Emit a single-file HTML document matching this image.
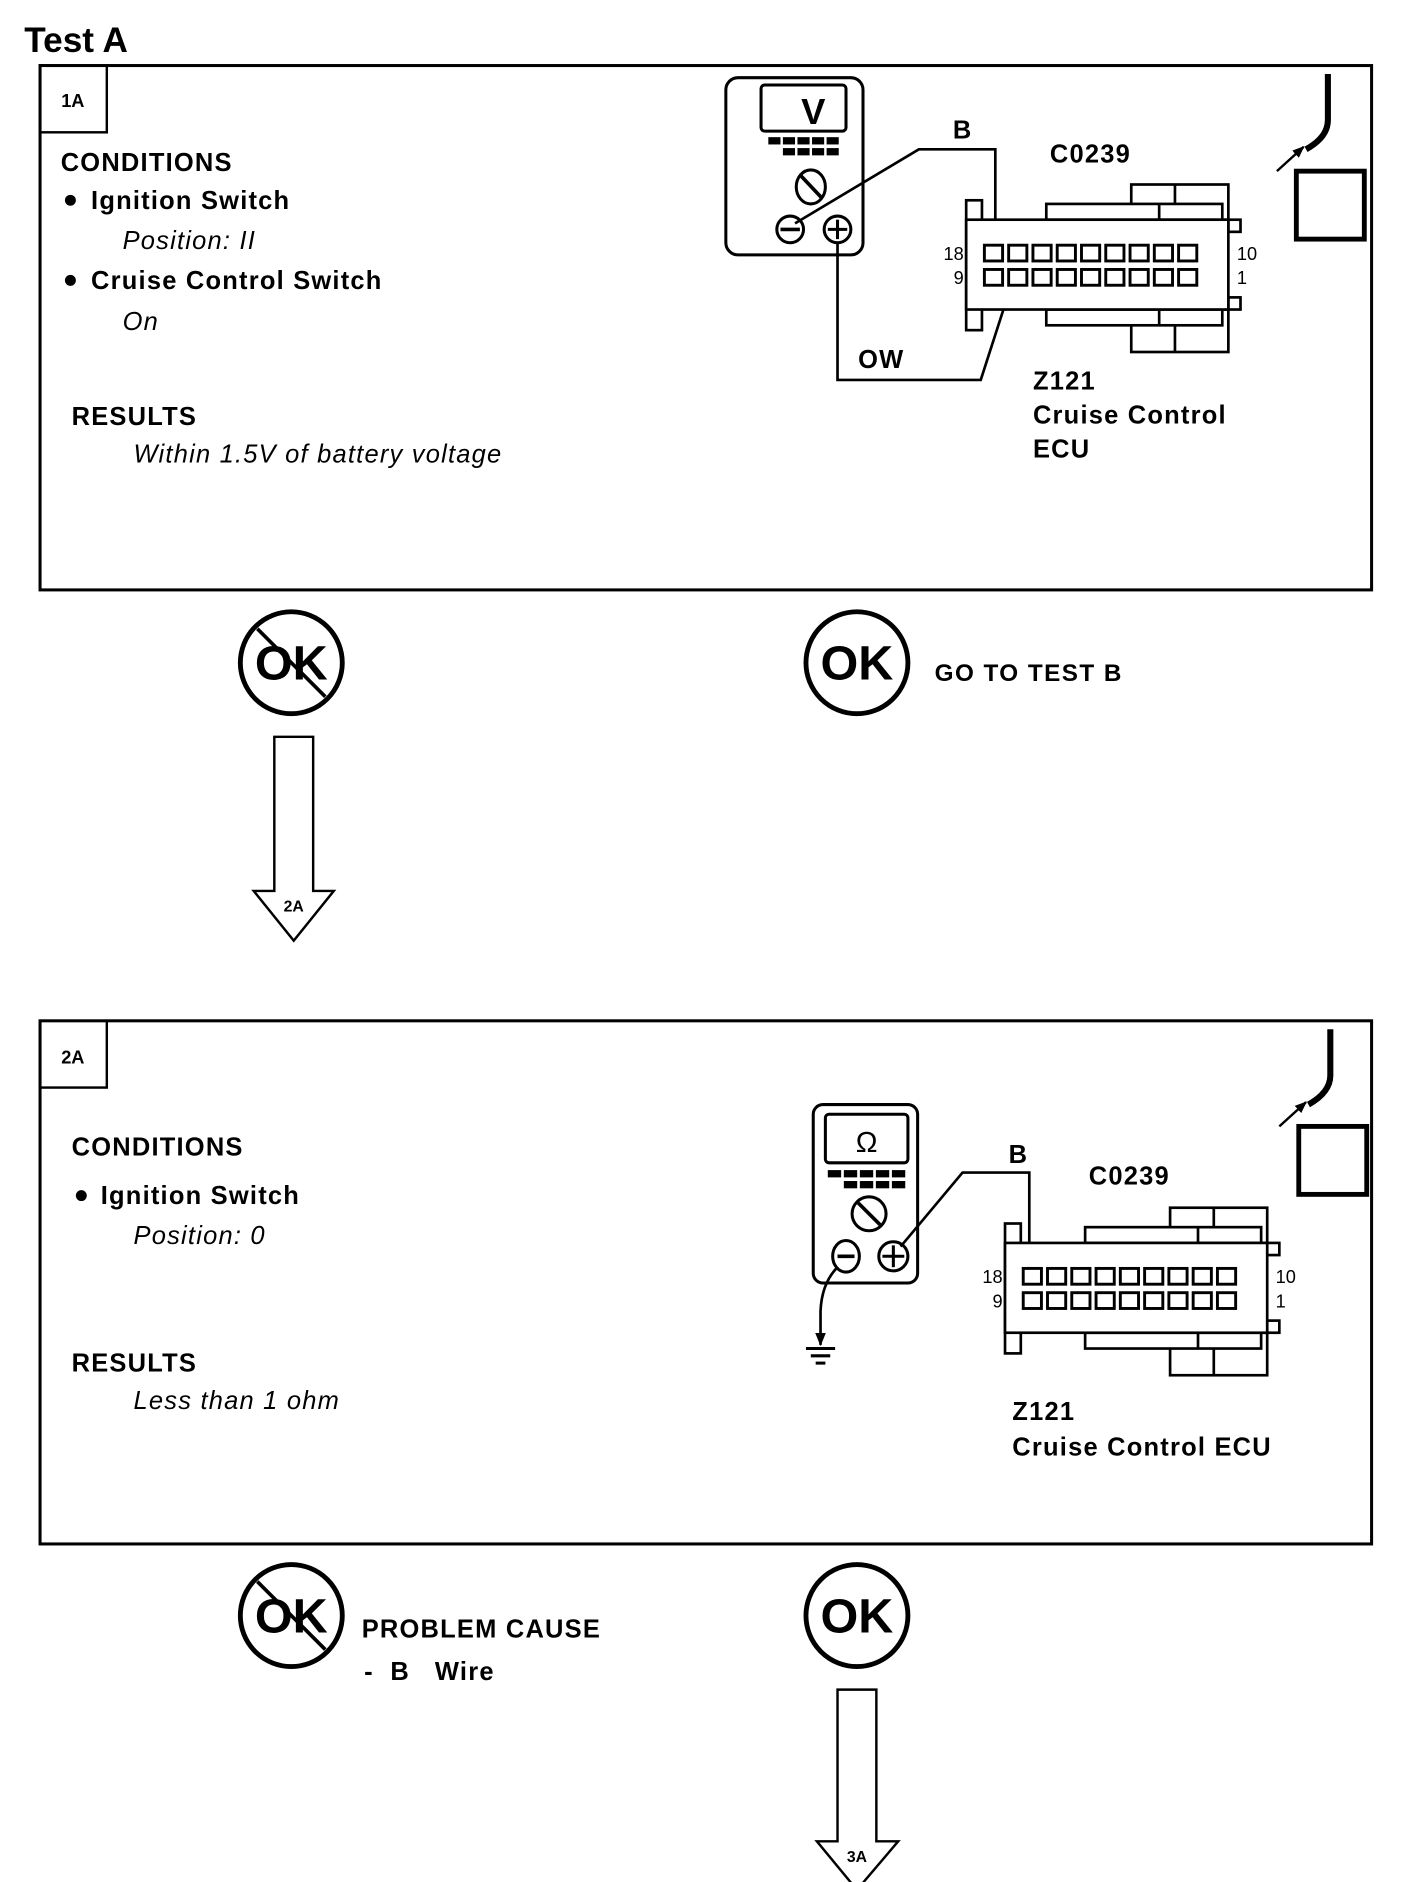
<!DOCTYPE html>
<html><head><meta charset="utf-8"><style>
html,body{margin:0;padding:0;background:#fff}
svg{display:block}
text{font-family:"Liberation Sans",Arial,sans-serif;fill:#000}
.b{font-weight:bold}
.i{font-style:italic}
.t{font-size:21px;letter-spacing:1px}
</style></head><body>
<svg width="1408" height="1882" viewBox="0 0 1160 1550.5" xmlns="http://www.w3.org/2000/svg">
<defs>
<marker id="ah" viewBox="0 0 10 10" refX="9" refY="5" markerWidth="5" markerHeight="5" orient="auto"><path d="M0,1 L10,5 L0,9 z" fill="#000"/></marker>
<g id="conn" fill="#fff" stroke="#000" stroke-width="2.2">
<rect x="932" y="152" width="80" height="29"/><line x1="968" y1="152" x2="968" y2="181"/>
<rect x="862" y="168" width="145" height="13"/>
<rect x="932" y="255" width="80" height="35"/><line x1="968" y1="255" x2="968" y2="290"/>
<rect x="862" y="255" width="145" height="13"/>
<line x1="955" y1="168" x2="955" y2="181"/><line x1="955" y1="255" x2="955" y2="268"/>
<rect x="1012" y="181" width="10" height="10"/><rect x="1012" y="245" width="10" height="10"/>
<rect x="796" y="165" width="13" height="107"/>
<rect x="796" y="181" width="216" height="74"/>
<g stroke-width="2.4">
<rect x="811" y="202" width="15" height="13"/><rect x="831" y="202" width="15" height="13"/><rect x="851" y="202" width="15" height="13"/><rect x="871" y="202" width="15" height="13"/><rect x="891" y="202" width="15" height="13"/><rect x="911" y="202" width="15" height="13"/><rect x="931" y="202" width="15" height="13"/><rect x="951" y="202" width="15" height="13"/><rect x="971" y="202" width="15" height="13"/>
<rect x="811" y="222" width="15" height="13"/><rect x="831" y="222" width="15" height="13"/><rect x="851" y="222" width="15" height="13"/><rect x="871" y="222" width="15" height="13"/><rect x="891" y="222" width="15" height="13"/><rect x="911" y="222" width="15" height="13"/><rect x="931" y="222" width="15" height="13"/><rect x="951" y="222" width="15" height="13"/><rect x="971" y="222" width="15" height="13"/>
</g>
<text x="794" y="214" font-size="15" text-anchor="end" stroke="none" fill="#000">18</text>
<text x="794" y="234" font-size="15" text-anchor="end" stroke="none" fill="#000">9</text>
<text x="1019" y="214" font-size="15" stroke="none" fill="#000">10</text>
<text x="1019" y="234" font-size="15" stroke="none" fill="#000">1</text>
</g>
<g id="keys" fill="#000">
<rect x="0" y="0" width="10" height="6"/><rect x="12" y="0" width="10" height="6"/><rect x="24" y="0" width="10" height="6"/><rect x="36" y="0" width="10" height="6"/><rect x="48" y="0" width="10" height="6"/>
<rect x="12" y="9" width="10" height="6"/><rect x="24" y="9" width="10" height="6"/><rect x="36" y="9" width="10" height="6"/><rect x="48" y="9" width="10" height="6"/>
</g>
<g id="plug" fill="none" stroke="#000">
<path d="M0,0 L0,38 Q0,52 -18,62" stroke-width="5"/>
<line x1="-42" y1="80" x2="-20" y2="60" stroke-width="2" marker-end="url(#ah)"/>
<rect x="-26" y="80" width="56" height="56" stroke-width="4"/>
</g>
<g id="nok">
<circle r="42" fill="#fff" stroke="#000" stroke-width="4"/>
<text x="0" y="14" font-size="40" class="b" text-anchor="middle">OK</text>
<line x1="-28" y1="-28" x2="28" y2="28" stroke="#000" stroke-width="3"/>
</g>
<g id="ok">
<circle r="42" fill="#fff" stroke="#000" stroke-width="4"/>
<text x="0" y="14" font-size="40" class="b" text-anchor="middle">OK</text>
</g>
</defs>

<text x="20" y="43" font-size="29" class="b">Test A</text>

<!-- Box 1 -->
<rect x="33" y="54" width="1097" height="432" fill="none" stroke="#000" stroke-width="2.5"/>
<rect x="33" y="54" width="55" height="55" fill="none" stroke="#000" stroke-width="2"/>
<text x="60" y="88" font-size="15" class="b" text-anchor="middle">1A</text>
<text x="50" y="141" class="b t">CONDITIONS</text>
<circle cx="58" cy="165" r="4.5"/>
<text x="75" y="172" class="b t">Ignition Switch</text>
<text x="101" y="205" class="i t">Position: II</text>
<circle cx="58" cy="231" r="4.5"/>
<text x="75" y="238" class="b t">Cruise Control Switch</text>
<text x="101" y="272" class="i t">On</text>
<text x="59" y="350" class="b t">RESULTS</text>
<text x="110" y="381" class="i t">Within 1.5V of battery voltage</text>

<!-- meter 1 -->
<rect x="598" y="64" width="113" height="146" rx="10" fill="#fff" stroke="#000" stroke-width="2.5"/>
<rect x="627" y="70" width="70" height="38" rx="3" fill="#fff" stroke="#000" stroke-width="2.5"/>
<text x="670" y="102" font-size="30" class="b" text-anchor="middle">V</text>
<use href="#keys" x="633" y="113"/>
<ellipse cx="668" cy="154" rx="12" ry="14" fill="none" stroke="#000" stroke-width="2.5"/>
<line x1="660" y1="145" x2="677" y2="163" stroke="#000" stroke-width="3"/>
<circle cx="651" cy="189" r="11" fill="#fff" stroke="#000" stroke-width="2.5"/>
<line x1="643" y1="189" x2="659" y2="189" stroke="#000" stroke-width="3"/>
<circle cx="690" cy="189" r="11" fill="#fff" stroke="#000" stroke-width="2.5"/>
<line x1="682" y1="189" x2="698" y2="189" stroke="#000" stroke-width="2.5"/>
<line x1="690" y1="181" x2="690" y2="197" stroke="#000" stroke-width="2.5"/>
<polyline points="655,184 757,123 820,123 820,199" fill="none" stroke="#000" stroke-width="2.2" marker-end="url(#ah)"/>
<polyline points="690,200 690,313 808,313 837,223" fill="none" stroke="#000" stroke-width="2.2" marker-end="url(#ah)"/>
<text x="785" y="114" class="b t">B</text>
<text x="707" y="303" class="b t">OW</text>
<use href="#conn"/>
<text x="865" y="134" class="b t">C0239</text>
<text x="851" y="321" class="b t">Z121</text>
<text x="851" y="349" class="b t">Cruise Control</text>
<text x="851" y="377" class="b t">ECU</text>
<use href="#plug" x="1094" y="61"/>

<use href="#nok" x="240" y="546"/>
<use href="#ok" x="706" y="546"/>
<text x="770" y="561" font-size="20" letter-spacing="1.2" class="b">GO TO TEST B</text>
<path d="M226,607 L258,607 L258,734 L275,734 L242,775 L209,734 L226,734 Z" fill="#fff" stroke="#000" stroke-width="2"/>
<text x="242" y="751" font-size="13" class="b" text-anchor="middle">2A</text>

<!-- Box 2 -->
<rect x="33" y="841" width="1097" height="431" fill="none" stroke="#000" stroke-width="2.5"/>
<rect x="33" y="841" width="55" height="55" fill="none" stroke="#000" stroke-width="2"/>
<text x="60" y="876" font-size="15" class="b" text-anchor="middle">2A</text>
<text x="59" y="952" class="b t">CONDITIONS</text>
<circle cx="67" cy="985" r="4.5"/>
<text x="83" y="992" class="b t">Ignition Switch</text>
<text x="110" y="1025" class="i t">Position: 0</text>
<text x="59" y="1130" class="b t">RESULTS</text>
<text x="110" y="1161" class="i t">Less than 1 ohm</text>

<!-- meter 2 -->
<rect x="670" y="910" width="86" height="147" rx="8" fill="#fff" stroke="#000" stroke-width="2.5"/>
<rect x="680" y="918" width="68" height="40" rx="3" fill="#fff" stroke="#000" stroke-width="2.5"/>
<text x="714" y="949" font-size="24" text-anchor="middle" font-family="Liberation Serif">Ω</text>
<use href="#keys" transform="translate(682 964) scale(1.1 1)"/>
<ellipse cx="716" cy="1000" rx="14" ry="14" fill="none" stroke="#000" stroke-width="2.5"/>
<line x1="707" y1="991" x2="725" y2="1009" stroke="#000" stroke-width="3"/>
<ellipse cx="697" cy="1035" rx="11" ry="13" fill="#fff" stroke="#000" stroke-width="2.5"/>
<line x1="690" y1="1035" x2="704" y2="1035" stroke="#000" stroke-width="3"/>
<circle cx="736" cy="1035" r="12" fill="#fff" stroke="#000" stroke-width="2.5"/>
<line x1="727" y1="1035" x2="745" y2="1035" stroke="#000" stroke-width="2.5"/>
<line x1="736" y1="1026" x2="736" y2="1044" stroke="#000" stroke-width="2.5"/>
<polyline points="742,1027 793,966 848,966 848,1041" fill="none" stroke="#000" stroke-width="2.2" marker-end="url(#ah)"/>
<path d="M689,1045 Q677,1058 676,1080 L676,1108" fill="none" stroke="#000" stroke-width="2.2" marker-end="url(#ah)"/>
<line x1="664" y1="1111" x2="688" y2="1111" stroke="#000" stroke-width="2.5"/>
<line x1="668" y1="1117" x2="684" y2="1117" stroke="#000" stroke-width="2.5"/>
<line x1="672" y1="1123" x2="680" y2="1123" stroke="#000" stroke-width="2.5"/>
<text x="831" y="958" class="b t">B</text>
<use href="#conn" x="32" y="843"/>
<text x="897" y="976" class="b t">C0239</text>
<text x="834" y="1170" class="b t">Z121</text>
<text x="834" y="1199" class="b t">Cruise Control ECU</text>
<use href="#plug" x="1096" y="848"/>

<use href="#nok" x="240" y="1331"/>
<text x="298" y="1349" class="b t">PROBLEM CAUSE</text>
<text x="300" y="1384" class="b t" xml:space="preserve">-  B   Wire</text>
<use href="#ok" x="706" y="1331"/>
<path d="M690,1392 L722,1392 L722,1517 L740,1517 L706,1557 L673,1517 L690,1517 Z" fill="#fff" stroke="#000" stroke-width="2"/>
<text x="706" y="1534" font-size="13" class="b" text-anchor="middle">3A</text>
</svg>
</body></html>
